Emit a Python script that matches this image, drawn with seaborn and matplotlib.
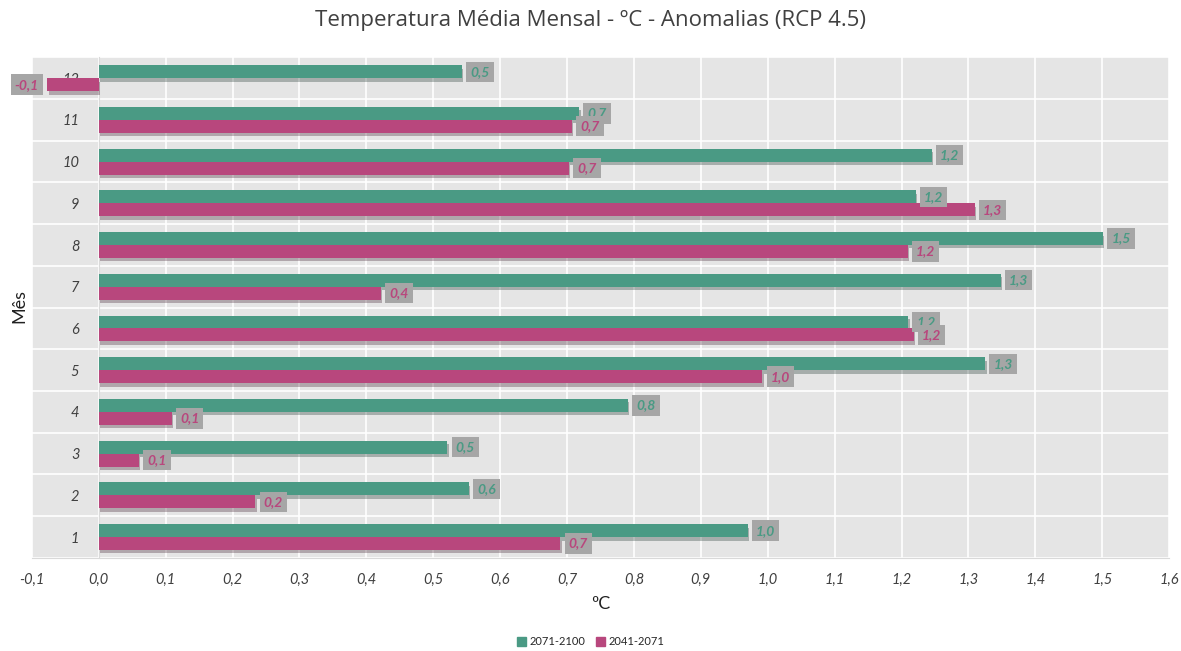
import matplotlib
matplotlib.use("Agg")
import matplotlib.pyplot as plt
import matplotlib.patheffects as pe
import numpy as np
import pandas as pd
import seaborn as sns

# dados
meses = ["1", "2", "3", "4", "5", "6", "7", "8", "9", "10", "11", "12"]
periodos = ["2071-2100", "2041-2071"]
anom_2071_2100 = [0.97, 0.553, 0.521, 0.791, 1.325, 1.21, 1.348, 1.501, 1.221, 1.245, 0.718, 0.543]
anom_2041_2071 = [0.69, 0.234, 0.06, 0.109, 0.992, 1.218, 0.422, 1.209, 1.309, 0.703, 0.707, -0.077]
x_ticks = [round(-0.1 + 0.1 * i, 1) for i in range(18)]

cores = {"2071-2100": "#4A9A84", "2041-2071": "#B8477D"}

df = pd.DataFrame({
    "Mês": meses * 2,
    "valor": anom_2071_2100 + anom_2041_2071,
    "Período": [periodos[0]] * 12 + [periodos[1]] * 12,
})

sns.set_style("white")
plt.rcParams["font.family"] = ["Lato", "DejaVu Sans"]

fig = plt.figure(figsize=(11.81, 6.51), dpi=100)
ax = fig.add_axes([0.027, 0.143, 0.963, 0.769])
ax.set_facecolor("#E5E5E5")

sns.barplot(data=df, x="valor", y="Mês", hue="Período", orient="h",
            order=meses[::-1], hue_order=periodos, palette=cores,
            width=0.62, saturation=1, ax=ax, legend=False, zorder=3)

# eixo vertical no zero (antes de formatar os ticks, pois reinicia os ticks)
for s in ["top", "right"]:
    ax.spines[s].set_visible(False)
ax.spines["left"].set_position(("data", 0))
ax.spines["left"].set_color("#D9D9D9")
ax.spines["bottom"].set_color("#D9D9D9")

shadow = [pe.SimplePatchShadow(offset=(1, -2.5), alpha=0.3), pe.Normal()]
for cont, per in zip(ax.containers, periodos):
    for p in cont:
        p.set_path_effects(shadow)
        p.set_edgecolor("none")
    labels = [f"{p.get_width():.1f}".replace(".", ",") for p in cont]
    ax.bar_label(cont, labels=labels, padding=6, color=cores[per], fontsize=10,
                 fontstyle="italic", fontweight="bold", zorder=5,
                 bbox=dict(boxstyle="square,pad=0.3", fc="#A6A6A6", ec="none"))

ax.set_xlim(-0.1, 1.6)
ax.set_ylim(11.5, -0.5)
ax.set_xticks(x_ticks)
ax.set_xticklabels([f"{t:.1f}".replace(".", ",") for t in x_ticks],
                   fontstyle="italic", fontsize=10.5, color="#404040")
ax.set_yticks(range(12))
ax.set_yticklabels(meses[::-1], fontstyle="italic", fontsize=10.5, color="#404040")
ax.set_yticks(np.arange(-0.5, 12, 1), minor=True)

ax.grid(False)
ax.xaxis.grid(True, color="white", lw=1.2, zorder=0)
ax.yaxis.grid(True, which="minor", color="white", lw=1.2, zorder=0)
ax.set_axisbelow(True)

ax.tick_params(axis="y", which="major", length=0, pad=14)
ax.tick_params(axis="y", which="minor", length=5, color="#D9D9D9", direction="out")
ax.tick_params(axis="x", length=5, color="#D9D9D9", pad=6)

ax.set_xlabel("ºC", fontsize=13, color="#202020", labelpad=6)
ax.set_ylabel("")
fig.text(0.016, 0.53, "Mês", rotation=90, fontsize=13, color="#202020",
         ha="center", va="center")

fig.suptitle("Temperatura Média Mensal - ºC - Anomalias (RCP 4.5)",
             y=0.985, fontsize=16, color="#404040", family="Open Sans")

handles = [plt.Rectangle((0, 0), 1, 1, color=cores[p]) for p in periodos]
fig.legend(handles, periodos, loc="center", bbox_to_anchor=(0.5, 0.014),
           ncol=2, frameon=False, fontsize=8, handlelength=0.8, handleheight=0.8,
           handletextpad=0.3, columnspacing=1.0)

fig.savefig("out.png", dpi=100, facecolor="white")
